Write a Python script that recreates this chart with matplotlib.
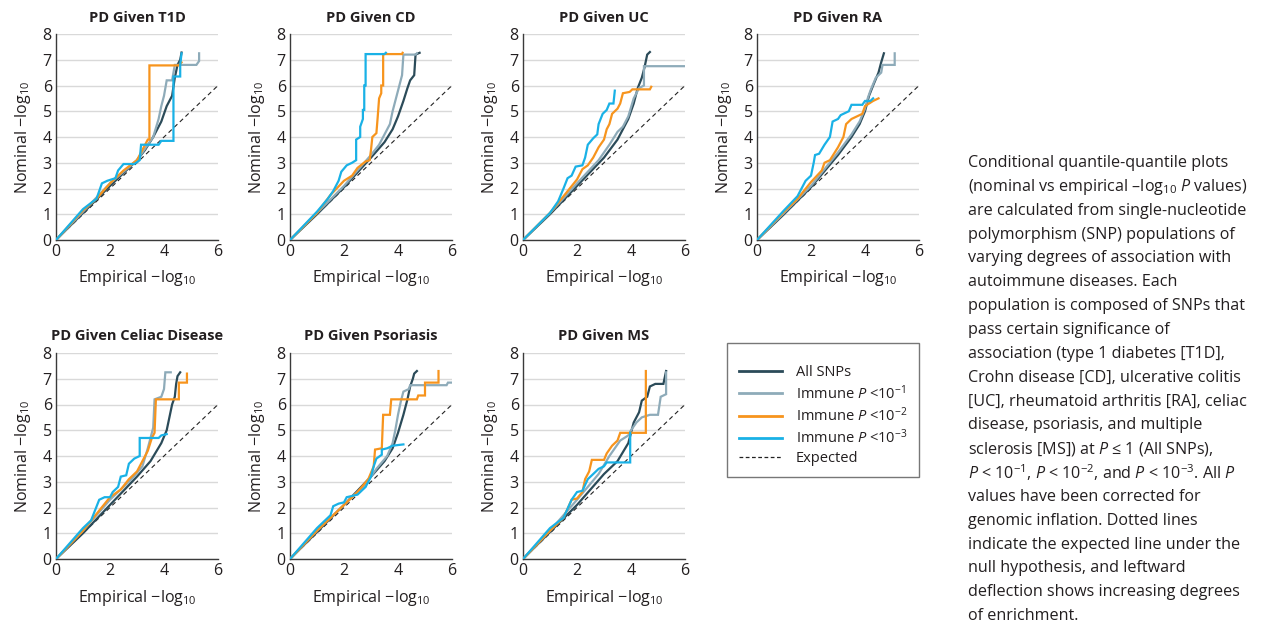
import matplotlib
matplotlib.use("Agg")
import matplotlib.pyplot as plt
from matplotlib.lines import Line2D

plt.rcParams['font.family'] = ['Open Sans', 'DejaVu Sans']
plt.rcParams['mathtext.fontset'] = 'custom'
plt.rcParams['mathtext.rm'] = 'Open Sans'
plt.rcParams['mathtext.it'] = 'Open Sans:italic'
plt.rcParams['mathtext.bf'] = 'Open Sans:bold'

# ---------------- data (empirical -log10, nominal -log10) ----------------
titles = ["PD Given T1D", "PD Given CD", "PD Given UC", "PD Given RA",
          "PD Given Celiac Disease", "PD Given Psoriasis", "PD Given MS"]
series_labels = ["All SNPs", "Immune $P$ <10$^{-1}$", "Immune $P$ <10$^{-2}$", "Immune $P$ <10$^{-3}$"]
series_colors = ["#2b4b59", "#8eabb9", "#f7941d", "#19b1e6"]
expected = [(0, 0), (6, 6)]

T1D_all = [(0, 0), (1, 1.05), (2, 2.1), (3, 3.1), (3.3, 3.5), (3.6, 4.0), (3.9, 4.6), (4.1, 5.2),
           (4.3, 5.6), (4.4, 6.3), (4.5, 6.8), (4.6, 7.0), (4.65, 7.28)]
T1D_p1 = [(0, 0), (1, 1.1), (2, 2.2), (3, 3.1), (3.4, 3.7), (3.6, 4.0), (3.8, 4.7), (3.9, 5.2),
          (4.0, 5.6), (4.1, 6.2), (4.3, 6.2), (4.4, 6.8), (5.2, 6.8), (5.3, 6.95), (5.3, 7.25)]
T1D_p2 = [(0, 0), (1, 1.15), (1.5, 1.6), (2, 2.2), (2.5, 2.7), (3.0, 3.1), (3.2, 3.5), (3.4, 3.9),
          (3.46, 3.9), (3.46, 6.78), (4.55, 6.78), (4.65, 6.9)]
T1D_p3 = [(0, 0), (1, 1.2), (1.5, 1.6), (1.7, 2.2), (1.9, 2.3), (2.2, 2.4), (2.3, 2.7), (2.5, 2.95),
          (2.9, 2.95), (3.1, 3.1), (3.15, 3.7), (3.8, 3.7), (3.9, 3.85), (4.35, 3.85), (4.35, 6.35),
          (4.6, 6.35), (4.6, 6.8), (4.65, 7.25)]

CD_all = [(0, 0), (1, 1.0), (2, 2.05), (3, 3.2), (3.5, 3.8), (3.8, 4.3), (4.0, 4.8), (4.2, 5.4),
          (4.35, 5.9), (4.45, 6.2), (4.6, 6.4), (4.65, 7.2), (4.8, 7.27)]
CD_p1 = [(0, 0), (1, 1.05), (2, 2.1), (2.5, 2.7), (3, 3.3), (3.3, 3.7), (3.5, 4.1), (3.7, 4.5),
         (3.8, 5.0), (3.9, 5.4), (4.0, 5.8), (4.1, 6.2), (4.15, 6.4), (4.2, 7.2), (4.65, 7.2), (4.7, 7.25)]
CD_p2 = [(0, 0), (1, 1.05), (1.5, 1.75), (2, 2.3), (2.3, 2.5), (2.5, 2.8), (2.8, 3.05), (2.95, 3.1),
         (3.0, 3.5), (3.05, 4.0), (3.2, 4.15), (3.25, 4.8), (3.3, 5.5), (3.38, 5.7), (3.38, 6.0),
         (3.45, 6.0), (3.45, 7.22), (4.15, 7.22), (4.17, 7.27)]
CD_p3 = [(0, 0), (1, 1.1), (1.4, 1.6), (1.6, 1.9), (1.8, 2.3), (1.9, 2.65), (2.1, 2.9), (2.3, 3.0),
         (2.45, 3.1), (2.45, 3.9), (2.6, 4.0), (2.6, 4.4), (2.7, 4.7), (2.7, 5.05), (2.75, 5.05),
         (2.75, 6.0), (2.8, 6.0), (2.8, 7.22), (3.5, 7.22), (3.55, 7.27)]

UC_all = [(0, 0), (1, 1.0), (2, 2.1), (3, 3.2), (3.5, 3.9), (3.9, 4.7), (4.1, 5.3), (4.25, 5.9),
          (4.4, 6.3), (4.5, 6.7), (4.6, 7.2), (4.7, 7.3)]
UC_p1 = [(0, 0), (1, 1.05), (2, 2.2), (2.8, 3.1), (3.2, 3.7), (3.5, 4.2), (3.7, 4.4), (3.9, 4.8),
         (4.1, 5.5), (4.3, 5.9), (4.48, 6.0), (4.48, 6.75), (6.0, 6.75)]
UC_p2 = [(0, 0), (1, 1.05), (1.5, 1.7), (2, 2.35), (2.2, 2.75), (2.4, 2.9), (2.6, 3.2), (2.8, 3.6),
         (3.0, 3.9), (3.1, 4.3), (3.2, 4.5), (3.3, 4.9), (3.5, 5.1), (3.6, 5.3), (3.7, 5.7),
         (3.95, 5.75), (4.05, 5.85), (4.7, 5.85), (4.75, 5.95)]
UC_p3 = [(0, 0), (1, 1.05), (1.3, 1.5), (1.5, 2.0), (1.65, 2.4), (1.8, 2.5), (1.95, 2.85), (2.2, 2.9),
         (2.3, 3.2), (2.4, 3.7), (2.6, 3.95), (2.75, 4.1), (2.8, 4.5), (2.95, 4.9), (3.1, 5.05),
         (3.2, 5.3), (3.35, 5.3), (3.4, 5.8)]

RA_all = [(0, 0), (1, 1.0), (2, 2.05), (3, 3.3), (3.5, 4.0), (3.8, 4.5), (4.0, 5.0), (4.15, 5.6),
          (4.3, 6.0), (4.5, 6.5), (4.6, 6.9), (4.7, 7.25)]
RA_p1 = [(0, 0), (1, 1.05), (2, 2.1), (3, 3.4), (3.5, 4.1), (3.8, 4.6), (4.0, 5.1), (4.1, 5.5),
         (4.2, 5.8), (4.4, 6.3), (4.6, 6.5), (4.65, 6.8), (5.1, 6.8), (5.1, 7.25)]
RA_p2 = [(0, 0), (1, 1.1), (1.5, 1.6), (2, 2.25), (2.4, 2.7), (2.5, 3.0), (2.7, 3.1), (2.85, 3.35),
         (3.0, 3.6), (3.2, 4.0), (3.3, 4.5), (3.5, 4.7), (3.8, 4.85), (3.9, 4.9), (4.0, 5.2),
         (4.3, 5.4), (4.5, 5.5)]
RA_p3 = [(0, 0), (1, 1.15), (1.5, 1.7), (1.8, 2.3), (2.0, 2.5), (2.1, 3.0), (2.15, 3.3), (2.3, 3.35),
         (2.5, 3.7), (2.7, 4.0), (2.8, 4.6), (3.0, 4.7), (3.1, 4.85), (3.4, 5.0), (3.5, 5.25),
         (3.9, 5.25), (4.0, 5.4), (4.2, 5.4), (4.3, 5.5)]

CEL_all = [(0, 0), (1, 1.0), (2, 2.1), (3, 3.2), (3.5, 3.8), (3.9, 4.5), (4.1, 5.0), (4.2, 5.5),
           (4.3, 6.0), (4.4, 6.3), (4.45, 6.8), (4.5, 7.1), (4.6, 7.25)]
CEL_p1 = [(0, 0), (1, 1.1), (2, 2.3), (2.8, 3.1), (3.2, 3.6), (3.4, 4.3), (3.5, 4.7), (3.6, 5.1),
          (3.65, 6.2), (3.9, 6.3), (4.0, 6.6), (4.05, 7.25), (4.25, 7.25)]
CEL_p2 = [(0, 0), (1, 1.1), (1.5, 1.75), (2, 2.4), (2.4, 2.7), (2.7, 3.1), (3.0, 3.4), (3.2, 3.8),
          (3.4, 4.2), (3.55, 4.7), (3.65, 4.9), (3.7, 6.2), (4.55, 6.2), (4.55, 6.85), (4.85, 6.85),
          (4.85, 7.2)]
CEL_p3 = [(0, 0), (1, 1.2), (1.3, 1.5), (1.6, 2.3), (1.8, 2.4), (2.0, 2.4), (2.1, 2.6), (2.3, 2.8),
          (2.4, 3.2), (2.6, 3.25), (2.7, 3.7), (2.9, 3.9), (3.1, 4.0), (3.1, 4.7), (3.8, 4.7),
          (3.9, 4.8), (4.1, 4.85)]

PSO_all = [(0, 0), (1, 1.05), (2, 2.1), (3, 3.2), (3.5, 3.8), (3.8, 4.3), (4.0, 4.9), (4.2, 5.6),
           (4.35, 6.2), (4.45, 6.7), (4.55, 7.0), (4.6, 7.2), (4.7, 7.3)]
PSO_p1 = [(0, 0), (1, 1.1), (2, 2.1), (2.8, 2.9), (3.2, 3.5), (3.6, 4.0), (3.8, 4.5), (3.9, 5.0),
          (4.0, 5.6), (4.1, 6.1), (4.2, 6.5), (4.4, 6.6), (4.45, 6.75), (5.8, 6.75), (5.85, 6.85),
          (6.0, 6.85)]
PSO_p2 = [(0, 0), (1, 1.1), (2, 2.1), (2.5, 2.6), (2.9, 3.1), (3.1, 3.6), (3.15, 4.25), (3.4, 4.3),
          (3.45, 5.6), (3.7, 5.6), (3.75, 6.2), (4.7, 6.2), (4.75, 6.35), (5.0, 6.35), (5.0, 6.85),
          (5.5, 6.85), (5.5, 7.3)]
PSO_p3 = [(0, 0), (1, 1.2), (1.5, 1.7), (1.6, 2.05), (1.8, 2.15), (2.0, 2.2), (2.1, 2.4), (2.5, 2.5),
          (2.8, 2.8), (3.0, 3.2), (3.1, 3.6), (3.2, 3.9), (3.4, 4.05), (3.4, 4.25), (3.6, 4.3),
          (3.8, 4.4), (4.2, 4.45)]

MS_all = [(0, 0), (1, 1.05), (2, 2.1), (3, 3.3), (3.5, 3.8), (3.9, 4.5), (4.1, 5.3), (4.3, 5.7),
          (4.4, 6.15), (4.6, 6.3), (4.7, 6.7), (4.9, 6.8), (5.2, 6.8), (5.3, 7.3)]
MS_p1 = [(0, 0), (1, 1.1), (2, 2.3), (2.8, 3.3), (3.2, 4.0), (3.6, 4.6), (3.9, 4.8), (4.0, 5.0),
         (4.2, 5.3), (4.4, 5.5), (4.7, 5.6), (5.0, 5.6), (5.1, 6.3), (5.3, 6.4), (5.3, 7.25)]
MS_p2 = [(0, 0), (1, 1.1), (1.5, 1.6), (1.8, 2.3), (2.0, 2.35), (2.2, 2.6), (2.3, 3.1), (2.45, 3.4),
         (2.55, 3.85), (3.0, 3.85), (3.1, 4.1), (3.3, 4.4), (3.5, 4.6), (3.6, 4.9), (4.55, 4.9),
         (4.55, 7.3)]
MS_p3 = [(0, 0), (1, 1.2), (1.5, 1.6), (1.8, 2.3), (2.0, 2.6), (2.2, 2.65), (2.4, 3.1), (2.6, 3.3),
         (2.8, 3.5), (3.0, 3.6), (3.1, 3.75), (3.97, 3.75), (3.97, 4.9)]

panels = [
    [T1D_all, T1D_p1, T1D_p2, T1D_p3],
    [CD_all, CD_p1, CD_p2, CD_p3],
    [UC_all, UC_p1, UC_p2, UC_p3],
    [RA_all, RA_p1, RA_p2, RA_p3],
    [CEL_all, CEL_p1, CEL_p2, CEL_p3],
    [PSO_all, PSO_p1, PSO_p2, PSO_p3],
    [MS_all, MS_p1, MS_p2, MS_p3],
]

caption_lines = [
    "Conditional quantile-quantile plots",
    "(nominal vs empirical \u2013log$_{10}$ $P$ values)",
    "are calculated from single-nucleotide",
    "polymorphism (SNP) populations of",
    "varying degrees of association with",
    "autoimmune diseases. Each",
    "population is composed of SNPs that",
    "pass certain significance of",
    "association (type 1 diabetes [T1D],",
    "Crohn disease [CD], ulcerative colitis",
    "[UC], rheumatoid arthritis [RA], celiac",
    "disease, psoriasis, and multiple",
    "sclerosis [MS]) at $P$ \u2264 1 (All SNPs),",
    "$P$ < 10$^{-1}$, $P$ < 10$^{-2}$, and $P$ < 10$^{-3}$. All $P$",
    "values have been corrected for",
    "genomic inflation. Dotted lines",
    "indicate the expected line under the",
    "null hypothesis, and leftward",
    "deflection shows increasing degrees",
    "of enrichment.",
]

# ---------------- figure ----------------
W, H = 1263, 626
fig = plt.figure(figsize=(W / 100, H / 100), dpi=100)

col_left = [56, 290, 523, 757]
row_bottom = [240, 559]
ax_w, ax_h = 162, 206

text_col = "#231f20"
for i, (title, data) in enumerate(zip(titles, panels)):
    r, c = divmod(i, 4)
    left = col_left[c] / W
    bottom = 1 - row_bottom[r] / H
    ax = fig.add_axes([left, bottom, ax_w / W, ax_h / H])
    ax.set_xlim(0, 6)
    ax.set_ylim(0, 8)
    ax.set_xticks([0, 2, 4, 6])
    ax.set_yticks(range(0, 9))
    ax.grid(axis='y', color='#d9d9d9', linewidth=1.0)
    ax.set_axisbelow(True)
    for s in ['top', 'right']:
        ax.spines[s].set_visible(False)
    for s in ['left', 'bottom']:
        ax.spines[s].set_color('#3a3a3a')
        ax.spines[s].set_linewidth(1.0)
    ax.tick_params(length=0, labelsize=11.5, colors=text_col, pad=3)
    ex, ey = zip(*expected)
    ax.plot(ex, ey, color='#222222', linestyle=(0, (4, 3)), linewidth=0.8, zorder=2)
    for series, color in zip(data, series_colors):
        xs, ys = zip(*series)
        ax.plot(xs, ys, color=color, linewidth=1.6, zorder=3, solid_joinstyle='miter')
    ax.set_title(title, fontsize=10.5, fontweight='bold', color=text_col, pad=9)
    ax.set_xlabel("Empirical \u2212log$_{10}$", fontsize=11.5, color=text_col, labelpad=6)
    ax.set_ylabel("Nominal \u2212log$_{10}$", fontsize=11.5, color=text_col, labelpad=7)

# legend
handles = [Line2D([], [], color=col, linewidth=2) for col in series_colors]
handles.append(Line2D([], [], color='#222222', linestyle=(0, (3, 2)), linewidth=0.9))
labels = series_labels + ["Expected"]
leg = fig.legend(handles, labels, loc='upper left',
                 bbox_to_anchor=(727 / W, 1 - 343 / H), frameon=True, fancybox=False,
                 fontsize=10.5, handlelength=3.0, labelspacing=0.25, borderpad=0.8,
                 handletextpad=0.9, borderaxespad=0, title=' ', title_fontsize=5)
leg.get_frame().set_edgecolor('#555555')
leg.get_frame().set_linewidth(1.0)
for t in leg.get_texts():
    t.set_color(text_col)

# caption
for k, line in enumerate(caption_lines):
    fig.text(968 / W, 1 - (163 + 23.85 * k) / H, line, fontsize=11.6, color=text_col,
             ha='left', va='center')

fig.savefig("out.png", dpi=100)
